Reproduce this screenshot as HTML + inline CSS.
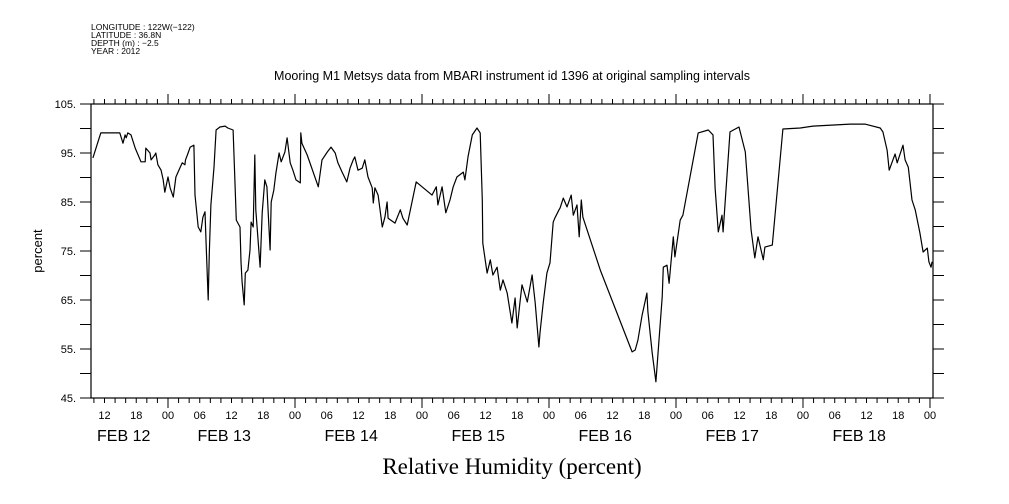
<!DOCTYPE html>
<html><head><meta charset="utf-8"><style>
body{margin:0;background:#fff;}
svg{display:block;font-family:"Liberation Sans",sans-serif;}
</style></head><body>
<svg id="chart" width="1009" height="504" viewBox="0 0 1009 504" xmlns="http://www.w3.org/2000/svg">
<g font-size="8.5" fill="#000">
<text x="91" y="30">LONGITUDE : 122W(−122)</text>
<text x="91" y="38">LATITUDE : 36.8N</text>
<text x="91" y="46">DEPTH (m) : −2.5</text>
<text x="91" y="54">YEAR : 2012</text>
</g>
<text x="512" y="80" text-anchor="middle" font-size="12.5">Mooring M1 Metsys data from MBARI instrument id 1396 at original sampling intervals</text>
<text transform="translate(42,251) rotate(-90)" text-anchor="middle" font-size="13">percent</text>
<text x="512" y="474" text-anchor="middle" font-size="23" font-family="Liberation Serif, serif">Relative Humidity (percent)</text>
<g id="axes"></g>
<g id="series"></g>
</svg>
<script>
// hours since FEB 12 00:00
const times = [9.8,11.3,13.6,14.9,15.5,15.9,16.1,16.4,17,17.8,18.9,19.7,19.8,20.6,20.8,21.5,21.7,22.1,22.7,23.1,23.4,24,24.4,25,25.5,26.3,26.7,27.2,27.3,27.8,28.2,28.9,29.1,29.7,30.2,30.6,31,31.2,31.6,31.8,32.1,32.7,33.1,33.8,34.8,35.3,36.3,36.9,37.6,37.8,38,38.4,38.6,39.1,39.5,39.7,40.1,40.4,40.6,41.4,41.8,42.3,42.7,43.3,43.5,44,44.4,45,45.4,46.1,46.5,47.1,47.6,48.2,49,49.1,49.3,50.3,52.4,53.1,54.1,54.8,55.6,56.1,56.9,57.8,58.4,59,59.3,59.9,60.7,61.2,61.8,62.6,62.8,63.1,63.7,64.5,65,65.4,65.6,66.9,67.9,68.4,69.2,70.9,73.9,74.7,75,75.8,76.5,77.3,77.9,78.6,79.8,80.1,80.7,81.5,82.4,83,83.4,83.5,84.3,84.9,85.4,86.2,86.8,87.3,88.1,89,89.6,90,90.5,90.9,91.9,92.8,93.4,94.1,94.3,94.9,95.6,96.2,96.8,97.1,97.9,98.1,98.7,99.4,100.2,100.6,101.3,101.7,102.1,102.4,105.7,111.7,112.3,112.8,113.6,114.5,114.7,115.5,116.2,117.4,117.6,118.3,118.7,119.5,119.8,120.8,121.3,124.2,126.1,127,127.4,128,128.7,128.9,130.2,131.9,133.1,134.2,134.9,135.5,136.5,136.8,138.2,140.2,143.5,145.9,152.9,155.7,158.6,159.1,159.9,160.3,161,161.4,161.8,162.9,163.3,163.9,164.6,165.2,166.1,166.7,167.5,167.8,168.2,168.4];
const humidity = [94,99.1,99.1,99.1,97,98.7,98.1,99.1,98.7,96,93.2,93.2,96,95,93.6,94.6,95,92.6,91.5,89.5,87,90.1,87.9,86,90.1,92.1,93,92.6,93.6,95,96.2,96.6,86.4,79.9,78.9,81.9,83,76.6,65,74.6,84.4,92.1,99.7,100.3,100.5,100.1,99.7,81.3,79.9,72.8,68.7,64,70.5,71.1,75.2,80.9,79.9,94.6,83.4,71.7,82.8,89.5,88.1,75.2,85,87.4,90.9,95,93.2,95.2,98.1,93,91.5,89.5,88.9,99.1,97,94.6,88.1,93.6,95.2,96.2,95,93,91.1,89.1,91.9,93.6,94.2,91.5,91.9,93.6,90.1,87.9,84.8,87.9,86.4,79.9,81.9,85,81.7,80.7,83.4,81.7,80.3,89.1,86.4,88.1,84.4,88.1,82.8,85.4,88.1,90.1,91.1,89.5,94.2,98.7,100.1,99.1,85.4,76.6,70.5,73.2,70.1,71.7,67,69.1,66.4,60.3,65.4,59.3,64.4,68.1,64.6,70.1,64.4,55.4,58.3,64.4,70.5,72.6,80.9,81.7,83.4,83.8,85.8,84,86.4,82.3,84.4,77.9,85.4,81.9,71.1,54.4,54.8,56.8,61.9,66.4,62.6,54.2,48.3,65.6,71.7,72.1,68.4,77.9,73.8,81.3,82.3,99.1,99.7,98.7,87.9,78.9,82.3,78.9,99.3,100.3,95.2,79.3,73.6,77.9,73.2,75.8,76.2,99.9,100.1,100.5,100.9,100.9,100.1,99.3,95.6,91.5,93.6,94.8,93,96.6,93.6,92.1,85.4,83.4,78.7,74.8,75.6,72.8,71.7,72.8];
const yTicks = [45,50,55,60,65,70,75,80,85,90,95,100,105];
const yLabels = ["45.","55.","65.","75.","85.","95.","105."];
const hourLabels = ["00","06","12","18"];
const dayLabels = ["FEB 12","FEB 13","FEB 14","FEB 15","FEB 16","FEB 17","FEB 18"];

const NS="http://www.w3.org/2000/svg";
const X0=91,X1=933,Y0=398,Y1=104,TMIN=9.45,TMAX=168.57,VMIN=45,VMAX=105;
function xs(t){return X0+(t-TMIN)*(X1-X0)/(TMAX-TMIN);}
function ys(v){return Y0-(v-VMIN)*(Y0-Y1)/(VMAX-VMIN);}
const axes=document.getElementById('axes');
function mk(tag,attrs,parent){const e=document.createElementNS(NS,tag);for(const k in attrs)e.setAttribute(k,attrs[k]);parent.appendChild(e);return e;}
const frame=mk('rect',{x:X0,y:Y1,width:X1-X0,height:Y0-Y1,fill:'none',stroke:'#000','stroke-width':1.2},axes);


yTicks.forEach(v=>{
  const y=ys(v);
  const l=mk('line',{x1:X0-11,x2:X0,y1:y,y2:y,stroke:'#000','stroke-width':1},axes);
  
  
  const r=mk('line',{x1:X1,x2:X1+11,y1:y,y2:y,stroke:'#000','stroke-width':1},axes);
  
  
});
yLabels.forEach(s=>{
  const v=parseFloat(s);
  const t=mk('text',{x:X0-15,y:ys(v)+4,'text-anchor':'end','font-size':11},axes);
  t.textContent=s;
  
  
});
for(let h=10;h<=168;h+=2){
  const x=xs(h);const major=(h%24===0);const len=major?10:5;
  const b=mk('line',{x1:x,x2:x,y1:Y0,y2:Y0+len,stroke:'#000','stroke-width':1},axes);
  
  
  const t=mk('line',{x1:x,x2:x,y1:Y1-len,y2:Y1,stroke:'#000','stroke-width':1},axes);
  
  
  if(h%6===0){
    const tx=mk('text',{x:x,y:419,'text-anchor':'middle','font-size':11},axes);
    tx.textContent=hourLabels[(h%24)/6];
    
    
  }
}
dayLabels.forEach((s,i)=>{
  let x=xs(24*i+12)-34; if(i===0)x=97;
  const t=mk('text',{x:x,y:441,'font-size':16},axes);
  t.textContent=s;
  
  
});
const pts=times.map((t,i)=>xs(t).toFixed(1)+','+ys(humidity[i]).toFixed(1)).join(' ');
const line=mk('polyline',{points:pts,fill:'none',stroke:'#000','stroke-width':1.2,'stroke-linejoin':'round'},document.getElementById('series'));


</script>
</body></html>
